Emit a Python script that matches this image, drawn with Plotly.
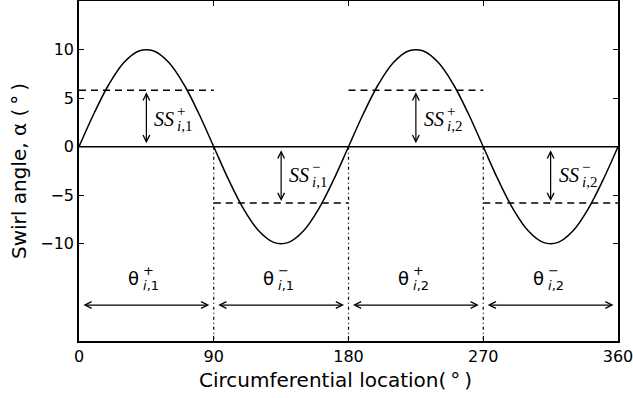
import plotly.graph_objects as go

# Swirl angle, every 10 degrees
location = list(range(0, 361, 10))
swirl = [0, 3.42, 6.43, 8.66, 9.85, 9.85, 8.66, 6.43, 3.42,
         0, -3.42, -6.43, -8.66, -9.85, -9.85, -8.66, -6.43, -3.42,
         0, 3.42, 6.43, 8.66, 9.85, 9.85, 8.66, 6.43, 3.42,
         0, -3.42, -6.43, -8.66, -9.85, -9.85, -8.66, -6.43, -3.42, 0]

# Sectors and swirl-intensity levels
sector_start = [0, 90, 180, 270]
sector_end = [90, 180, 270, 360]
ss_level = [5.8, -5.8, 5.8, -5.8]
label_sign = ["+", "\u2212", "+", "\u2212"]
label_index = ["<i>i</i>,1", "<i>i</i>,1", "<i>i</i>,2", "<i>i</i>,2"]
divider_x = [90, 180, 270]
theta_arrow_y = -16.3
theta_label_y = -13.6

fig = go.Figure()

# zero line
fig.add_trace(go.Scatter(x=[0, 360], y=[0, 0], mode="lines",
                         line=dict(color="black", width=1.5), hoverinfo="skip"))

# dashed SS levels
for s, e, lv in zip(sector_start, sector_end, ss_level):
    fig.add_trace(go.Scatter(x=[s, e], y=[lv, lv], mode="lines",
                             line=dict(color="black", width=1.5, dash="7px,5px"),
                             hoverinfo="skip"))

# dash-dot sector dividers
for d in divider_x:
    fig.add_trace(go.Scatter(x=[d, d], y=[0, -20], mode="lines",
                             line=dict(color="black", width=1.2, dash="3px,3px,1px,3px"),
                             hoverinfo="skip"))

# swirl curve
fig.add_trace(go.Scatter(x=location, y=swirl, mode="lines",
                         line=dict(color="black", width=1.5, shape="spline", smoothing=1.0)))

serif = "Liberation Serif"
sans = "DejaVu Sans"
annotations = []
for s, e, lv, sg, idx in zip(sector_start, sector_end, ss_level, label_sign, label_index):
    mid = (s + e) / 2
    # vertical double arrow
    annotations.append(dict(x=mid, y=lv, ax=mid, ay=0, xref="x", yref="y",
                            axref="x", ayref="y", text="", showarrow=True,
                            arrowhead=5, startarrowhead=5, arrowside="end+start",
                            arrowsize=1.1, startarrowsize=1.1, arrowwidth=1.2,
                            arrowcolor="black", standoff=2, startstandoff=2))
    # SS label with stacked super/subscript
    annotations.append(dict(x=mid + 4, y=lv / 2, xref="x", yref="y", text="<i>SS</i>",
                            showarrow=False, xanchor="left",
                            font=dict(family=serif, size=20, color="black")))
    annotations.append(dict(x=mid + 4, y=lv / 2, xref="x", yref="y", text=sg,
                            showarrow=False, xanchor="left", xshift=23, yshift=8,
                            font=dict(family=serif, size=15, color="black")))
    annotations.append(dict(x=mid + 4, y=lv / 2, xref="x", yref="y", text=idx,
                            showarrow=False, xanchor="left", xshift=23, yshift=-7,
                            font=dict(family=serif, size=15, color="black")))
    # horizontal double arrow
    annotations.append(dict(x=e - 3, y=theta_arrow_y, ax=s + 2, ay=theta_arrow_y,
                            xref="x", yref="y", axref="x", ayref="y", text="",
                            showarrow=True, arrowhead=5, startarrowhead=5,
                            arrowside="end+start", arrowsize=1.1, startarrowsize=1.1,
                            arrowwidth=1.2, arrowcolor="black"))
    # theta label with stacked super/subscript
    annotations.append(dict(x=mid, y=theta_label_y, xref="x", yref="y", text="\u03b8",
                            showarrow=False, xanchor="right", xshift=-5,
                            font=dict(family=sans, size=18, color="black")))
    annotations.append(dict(x=mid, y=theta_label_y, xref="x", yref="y", text=sg,
                            showarrow=False, xanchor="left", xshift=-5, yshift=8,
                            font=dict(family=sans, size=13, color="black")))
    annotations.append(dict(x=mid, y=theta_label_y, xref="x", yref="y", text=idx,
                            showarrow=False, xanchor="left", xshift=-5, yshift=-7,
                            font=dict(family=sans, size=13, color="black")))

# x axis title, placed slightly left of centre like the original
annotations.append(dict(x=0.475, y=-0.115, xref="paper", yref="paper",
                        text="Circumferential location(\u2009\u00b0\u2009)",
                        showarrow=False, xanchor="center", yanchor="middle",
                        font=dict(family=sans, size=20, color="black")))

fig.update_layout(
    width=633, height=398,
    margin=dict(l=79, r=15, t=1, b=57),
    plot_bgcolor="white", paper_bgcolor="white",
    showlegend=False,
    font=dict(family=sans, color="black"),
    annotations=annotations,
    xaxis=dict(range=[0, 360], tickvals=[0, 90, 180, 270, 360],
               ticks="inside", ticklen=5, tickwidth=1, tickcolor="black",
               showline=True, linecolor="black", linewidth=1.5, mirror="ticks",
               showgrid=False, zeroline=False, automargin=False,
               ticklabeloverflow="allow",
               tickfont=dict(size=16)),
    yaxis=dict(range=[-20, 15], tickvals=[-10, -5, 0, 5, 10],
               ticktext=["\u221210", "\u22125", "0", "5", "10"],
               ticks="inside", ticklen=5, tickwidth=1, tickcolor="black",
               showline=True, linecolor="black", linewidth=1.5, mirror="ticks",
               showgrid=False, zeroline=False, automargin=False,
               tickfont=dict(size=16),
               title=dict(text="Swirl angle, \u03b1 (\u2009\u00b0\u2009)", font=dict(size=20),
                          standoff=8)),
)

# drop the default page margin so the figure sits at the window corner
fig.write_html("out.html", config={"displayModeBar": False},
               post_script="document.body.style.margin='0';")
